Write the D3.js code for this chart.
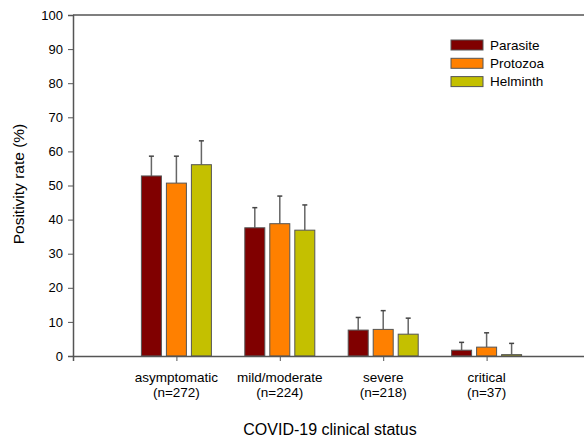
<!DOCTYPE html>
<html>
<head>
<meta charset="utf-8">
<script src="https://cdn.jsdelivr.net/npm/d3@7"></script>
<style>
  body { margin: 0; background: #fff; }
  text { font-family: "Liberation Sans", Arial, sans-serif; fill: #000; }
</style>
</head>
<body>
<div id="chart"></div>
<script>
const categories = ["asymptomatic", "mild/moderate", "severe", "critical"];
const counts = ["(n=272)", "(n=224)", "(n=218)", "(n=37)"];
const series = ["Parasite", "Protozoa", "Helminth"];
const colors = ["#800000", "#ff8000", "#c4c000"];

// mean and upper error (value + SD) per series, in category order
const parasite = [52.8, 37.6, 7.6, 1.7];
const parasiteErr = [58.6, 43.5, 11.3, 4.0];
const protozoa = [50.7, 38.8, 7.8, 2.6];
const protozoaErr = [58.6, 46.9, 13.3, 6.8];
const helminth = [56.1, 36.9, 6.4, 0.4];
const helminthErr = [63.1, 44.3, 11.1, 3.7];

const yTicks = [0, 10, 20, 30, 40, 50, 60, 70, 80, 90, 100];

const values = [parasite, protozoa, helminth];
const errors = [parasiteErr, protozoaErr, helminthErr];

const width = 584;
const height = 439;

const svg = d3.select("#chart")
    .append("svg")
    .attr("width", width)
    .attr("height", height);

// groups sit at 1..4 on a 0..5 axis, the right end is cut by the frame
const x = d3.scaleLinear().domain([0, 5]).range([73, 590]);
const y = d3.scaleLinear().domain([0, 100]).range([356, 15]);

const barW = 20;
const step = 25;

const rows = [];
categories.forEach((c, i) => {
    series.forEach((s, j) => {
        rows.push({ cat: i, s: j, v: values[j][i], e: errors[j][i] });
    });
});

// error bars (upper only)
const eb = svg.append("g");
rows.forEach(d => {
    const cx = x(d.cat + 1) + (d.s - 1) * step;
    eb.append("line")
        .attr("x1", cx).attr("x2", cx)
        .attr("y1", y(d.v)).attr("y2", y(d.e))
        .attr("stroke", "#666").attr("stroke-width", 1.5);
    eb.append("line")
        .attr("x1", cx - 2.5).attr("x2", cx + 2.5)
        .attr("y1", y(d.e)).attr("y2", y(d.e))
        .attr("stroke", "#444").attr("stroke-width", 1.5);
});

svg.append("g").selectAll("rect")
    .data(rows)
    .enter()
    .append("rect")
    .attr("x", d => x(d.cat + 1) + (d.s - 1) * step - barW / 2)
    .attr("y", d => y(d.v))
    .attr("width", barW)
    .attr("height", d => y(0) - y(d.v))
    .attr("fill", d => colors[d.s])
    .attr("stroke", "#555")
    .attr("stroke-width", 1);

// y axis
const yAxis = d3.axisLeft(y)
    .tickValues(yTicks)
    .tickSize(5)
    .tickPadding(5);

const gy = svg.append("g")
    .attr("transform", `translate(${x(0)},0)`)
    .call(yAxis);
gy.select(".domain").attr("stroke", "#555").attr("stroke-width", 1.5);
gy.selectAll(".tick line").attr("stroke", "#555");
gy.selectAll(".tick text")
    .style("font-size", "13px")
    .style("font-family", "'Liberation Sans', Arial, sans-serif")
    .attr("fill", "#000");

// x axis
const xAxis = d3.axisBottom(x)
    .tickValues([1, 2, 3, 4])
    .tickSize(5)
    .tickFormat("");

const gx = svg.append("g")
    .attr("transform", `translate(0,${y(0)})`)
    .call(xAxis);
gx.select(".domain").attr("stroke", "#555").attr("stroke-width", 1.5);
gx.selectAll(".tick line").attr("stroke", "#555");

// top frame line
svg.append("line")
    .attr("x1", x(0)).attr("x2", width)
    .attr("y1", y(100)).attr("y2", y(100))
    .attr("stroke", "#555").attr("stroke-width", 1.5);

// category labels
categories.forEach((c, i) => {
    const t = svg.append("text")
        .attr("x", x(i + 1))
        .attr("text-anchor", "middle")
        .style("font-size", "13.5px");
    t.append("tspan").attr("x", x(i + 1)).attr("y", 382).text(c);
    t.append("tspan").attr("x", x(i + 1)).attr("y", 397).text(counts[i]);
});

svg.append("text")
    .attr("x", 330)
    .attr("y", 435)
    .attr("text-anchor", "middle")
    .style("font-size", "16px")
    .text("COVID-19 clinical status");

svg.append("text")
    .attr("transform", "translate(24,184) rotate(-90)")
    .attr("text-anchor", "middle")
    .style("font-size", "15.5px")
    .text("Positivity rate (%)");

// legend
const legend = svg.append("g").attr("transform", "translate(451,40)");
series.forEach((s, i) => {
    legend.append("rect")
        .attr("x", 0)
        .attr("y", i * 18.3)
        .attr("width", 32)
        .attr("height", 10)
        .attr("fill", colors[i])
        .attr("stroke", "#555");
    legend.append("text")
        .attr("x", 39)
        .attr("y", i * 18.3 + 9.5)
        .style("font-size", "13.5px")
        .text(s);
});
</script>
</body>
</html>
